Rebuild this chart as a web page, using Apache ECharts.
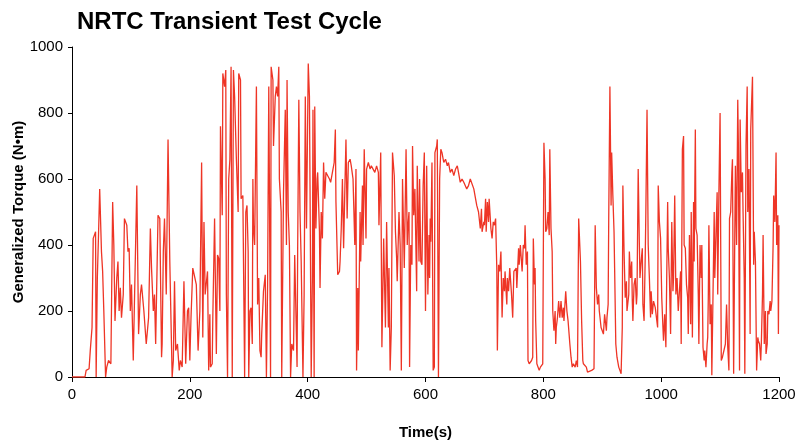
<!DOCTYPE html>
<html>
<head>
<meta charset="utf-8">
<script src="https://cdn.jsdelivr.net/npm/echarts@6/dist/echarts.min.js"></script>
<style>
  html, body { margin: 0; padding: 0; background: #fff; }
  #main { width: 795px; height: 441px; }
</style>
</head>
<body>
<div id="main"></div>
<script>
// time (s) and torque (N·m)
var time = [
    0, 22, 24, 29, 31, 34, 36, 38, 40, 41, 43, 45, 47, 49, 50, 52, 54, 57, 59, 62, 66, 69, 71, 73, 76, 78, 80, 82, 84, 87, 89, 91, 93, 95, 97, 99,
    101, 104, 110, 113, 116, 118, 122, 126, 130, 133, 135, 138, 140, 142, 146, 149, 152, 153, 155, 157, 160, 163, 166, 170, 172, 174, 176, 179, 182, 184, 187, 190, 193, 196,
    198, 200, 202, 205, 208, 211, 214, 217, 220, 222, 224, 226, 230, 232, 234, 235, 238, 239, 242, 245, 247, 249, 251, 252, 255, 256, 259, 261, 262, 264, 266, 268, 270, 272, 274, 276, 279, 282, 283, 286, 287, 290, 293, 295, 297, 299,
    300, 302, 304, 306, 307, 308, 310, 313, 315, 317, 319, 321, 322, 325, 328, 330, 332, 334, 335, 337, 338, 341, 342, 345, 347, 349, 351, 352, 355, 356, 359, 362, 364, 365, 367, 369, 371, 373, 376, 378, 380, 382, 383, 385, 387, 389, 392, 394, 396,
    398, 401, 403, 404, 406, 408, 409, 411, 412, 414, 416, 417, 420, 421, 423, 425, 427, 429, 431, 434, 437, 439, 442, 445, 447, 448, 451, 454, 455, 457, 459, 461, 463, 465, 467, 469, 472, 474, 477, 480, 482, 483, 485, 486, 489, 490, 493, 494, 496,
    499, 500, 503, 506, 508, 511, 514, 517, 520, 521, 524, 526, 529, 532, 534, 537, 538, 540, 542, 544, 547, 549, 551, 552, 555, 557, 559, 561, 564, 567, 569, 570, 572, 573, 575, 577, 578, 580, 582, 585, 586, 589, 590, 592, 594, 596,
    598, 600, 602, 604, 606, 607, 608, 609, 611, 613, 615, 616, 619, 620, 622, 624, 626, 628, 631, 634, 637, 639, 642, 645, 648, 651, 654, 656, 659, 662, 665, 668, 670, 673, 676, 679, 682, 685, 687, 690, 693, 695, 696, 699,
    700, 702, 703, 705, 707, 708, 711, 713, 715, 717, 719, 721, 722, 724, 726, 728, 730, 732, 734, 735, 738, 739, 741, 743, 746, 748, 750, 752, 754, 755, 758, 759, 761, 764, 766, 768, 769, 771, 773, 774, 776, 778, 780, 782, 783, 785, 786, 787, 789, 791, 793, 795, 797, 799,
    801, 803, 804, 806, 808, 810, 811, 813, 815, 816, 818, 820, 821, 822, 824, 826, 828, 830, 832, 834, 835, 838, 840, 842, 845, 847, 849, 851, 854, 856, 858, 860, 863, 865, 867, 868, 870, 873, 875, 877, 882, 886, 888, 890, 892, 894, 895, 898, 900, 902,
    904, 907, 908, 910, 911, 913, 915, 916, 918, 920, 921, 923, 925, 928, 930, 932, 934, 935, 937, 939, 941, 942, 945, 946, 948, 950, 951, 952, 954, 956, 958, 959, 961, 963, 964, 966, 968, 969, 971, 973, 974, 976, 978, 980, 982, 983, 985, 987, 990, 992, 994, 995, 997, 999,
    1001, 1003, 1004, 1006, 1008, 1011, 1012, 1014, 1016, 1018, 1020, 1021, 1023, 1025, 1027, 1029, 1031, 1033, 1034, 1036, 1038, 1039, 1041, 1043, 1045, 1046, 1048, 1050, 1051, 1053, 1055, 1056, 1058, 1059, 1061, 1063, 1064, 1066, 1068, 1069, 1071, 1073, 1074, 1076, 1078, 1079, 1080, 1081, 1083, 1085, 1086, 1088, 1090, 1091, 1093, 1095, 1096, 1098, 1100,
    1102, 1104, 1106, 1107, 1109, 1111, 1113, 1115, 1116, 1118, 1120, 1121, 1123, 1125, 1126, 1128, 1130, 1131, 1133, 1134, 1136, 1138, 1139, 1141, 1142, 1144, 1146, 1147, 1149, 1151, 1152, 1155, 1157, 1158, 1160, 1162, 1164, 1165, 1167, 1169, 1170, 1172, 1173, 1175, 1177, 1178, 1180, 1181, 1183, 1185, 1186, 1188, 1190, 1191, 1193, 1195, 1196, 1198, 1199, 1200
];
var torque = [
    0, 0, 20, 25, 80, 150, 420, 430, 440, 0, 300, 430, 570, 575, 380, 320, 200, 0, 30, 50, 40, 530, 400, 170, 300, 350, 200, 270, 180, 250, 480, 470, 460, 380, 390, 200,
    280, 50, 580, 130, 250, 280, 200, 100, 180, 450, 330, 200, 250, 100, 490, 480, 60, 100, 380, 480, 250, 720, 350, 0, 50, 290, 80, 100, 20, 50, 30, 290, 40, 200,
    210, 50, 180, 330, 330, 280, 80, 200, 650, 120, 470, 250, 320, 20, 190, 30, 40, 180, 480, 70, 370, 360, 200, 760, 490, 920, 880, 930, 250, 0, 600, 660, 940, 0, 930, 850, 660, 500, 920, 900, 540, 550, 0, 500, 520, 380,
    0, 200, 210, 100, 600, 460, 400, 880, 220, 300, 80, 60, 130, 260, 310, 0, 280, 880, 600, 0, 940, 900, 700, 850, 880, 850, 940, 600, 500, 0, 560, 810, 400, 900, 500, 400, 0, 100, 80, 370, 200, 30, 380, 840, 500, 350, 0, 250, 850,
    450, 950, 850, 580, 0, 300, 810, 0, 820, 450, 600, 620, 440, 270, 500, 420, 650, 540, 620, 610, 600, 590, 620, 650, 750, 530, 310, 320, 350, 450, 600, 390, 560, 720, 480, 650, 660, 640, 600, 400, 630, 20, 270, 80, 500, 350, 580, 400, 690,
    420, 630, 650, 630, 640, 630, 620, 640, 620, 460, 680, 90, 420, 150, 470, 150, 330, 20, 150, 680, 610, 440, 360, 290, 500, 400, 20, 600, 330, 690, 400, 450, 500, 30, 400, 340, 700, 490, 570, 260, 640, 350, 600, 350, 340, 580,
    680, 200, 640, 250, 430, 300, 480, 410, 650, 20, 30, 680, 700, 720, 0, 600, 690, 680, 650, 660, 640, 650, 620, 630, 610, 630, 640, 620, 590, 600, 590, 590, 570, 580, 600, 600, 570, 540, 520, 500, 450, 510, 440, 470,
    460, 540, 440, 530, 470, 540, 450, 420, 470, 460, 480, 330, 80, 340, 320, 380, 180, 300, 260, 320, 220, 300, 260, 330, 250, 180, 320, 320, 330, 270, 390, 340, 400, 320, 400, 390, 460, 340, 380, 50, 40, 40, 50, 60, 420, 280, 330, 170, 40, 40, 20, 30, 30, 40,
    710, 600, 440, 450, 500, 430, 690, 450, 380, 200, 140, 200, 100, 150, 180, 230, 180, 230, 180, 210, 170, 260, 200, 170, 100, 60, 30, 40, 30, 50, 30, 480, 350, 170, 50, 40, 40, 30, 15, 20, 20, 25, 460, 270, 220, 250, 200, 150, 140, 130,
    190, 140, 180, 220, 480, 880, 520, 680, 550, 440, 330, 100, 60, 30, 20, 10, 150, 580, 380, 240, 290, 200, 250, 380, 300, 350, 230, 170, 280, 300, 220, 250, 630, 400, 300, 350, 390, 220, 170, 370, 500, 810, 400, 300, 180, 260, 190, 230, 210, 180, 150, 580, 470, 420,
    240, 150, 110, 190, 90, 530, 390, 300, 130, 470, 260, 300, 550, 250, 300, 200, 200, 320, 100, 690, 730, 400, 390, 280, 240, 130, 430, 160, 500, 120, 530, 350, 750, 450, 430, 250, 100, 400, 300, 400, 90, 50, 80, 30, 100, 120, 240, 460, 160, 220, 5, 250, 500, 300, 430, 560, 250, 560, 800,
    50, 60, 60, 60, 100, 220, 90, 20, 480, 500, 620, 660, 10, 440, 640, 400, 840, 710, 20, 780, 560, 620, 500, 300, 10, 700, 880, 500, 630, 130, 750, 910, 340, 440, 350, 20, 120, 110, 100, 50, 100, 250, 430, 100, 200, 70, 100, 200, 190, 230, 200, 230, 400, 550, 470, 680, 400, 490, 130, 460
];
var xTicks = [0, 200, 400, 600, 800, 1000, 1200];
var yTicks = [0, 200, 400, 600, 800, 1000];

var seriesData = time.map(function (t, i) {
    return [t, torque[i]];
});

var chart = echarts.init(document.getElementById('main'));
var font = '"Liberation Sans", Helvetica, Arial, sans-serif';
var option = {
    animation: false,
    title: {
        text: 'NRTC Transient Test Cycle',
        left: 72,
        top: 5,
        textStyle: {
            fontFamily: font,
            fontWeight: 'bold',
            fontSize: 24,
            color: '#000'
        }
    },
    grid: {
        left: 72,
        right: 16,
        top: 47,
        bottom: 64,
        containLabel: false,
        outerBoundsMode: 'none'
    },
    xAxis: {
        type: 'value',
        min: xTicks[0],
        max: xTicks[xTicks.length - 1],
        interval: 200,
        name: 'Time(s)',
        nameLocation: 'middle',
        nameGap: 48,
        nameMoveOverlap: false,
        nameTextStyle: {
            fontFamily: font,
            fontWeight: 'bold',
            fontSize: 15,
            color: '#000'
        },
        axisLine: { show: true, lineStyle: { color: '#000', width: 1 } },
        axisTick: { show: true, length: 5, lineStyle: { color: '#000' } },
        axisLabel: {
            fontFamily: font,
            fontSize: 15,
            color: '#000',
            margin: 10,
            formatter: function (v) { return String(v); }
        },
        splitLine: { show: false }
    },
    yAxis: {
        type: 'value',
        min: yTicks[0],
        max: yTicks[yTicks.length - 1],
        interval: 200,
        name: 'Generalized Torque (N•m)',
        nameLocation: 'middle',
        nameGap: 46,
        nameMoveOverlap: false,
        nameTextStyle: {
            fontFamily: font,
            fontWeight: 'bold',
            fontSize: 15,
            color: '#000'
        },
        axisLine: { show: true, lineStyle: { color: '#000', width: 1 } },
        axisTick: { show: true, length: 4, lineStyle: { color: '#000' } },
        axisLabel: {
            fontFamily: font,
            fontSize: 15,
            color: '#000',
            margin: 9,
            formatter: function (v) { return String(v); }
        },
        splitLine: { show: false }
    },
    series: [{
        type: 'line',
        data: seriesData,
        showSymbol: false,
        smooth: false,
        lineStyle: {
            color: '#ee3526',
            width: 1.3
        }
    }]
};
chart.setOption(option);
</script>
</body>
</html>
